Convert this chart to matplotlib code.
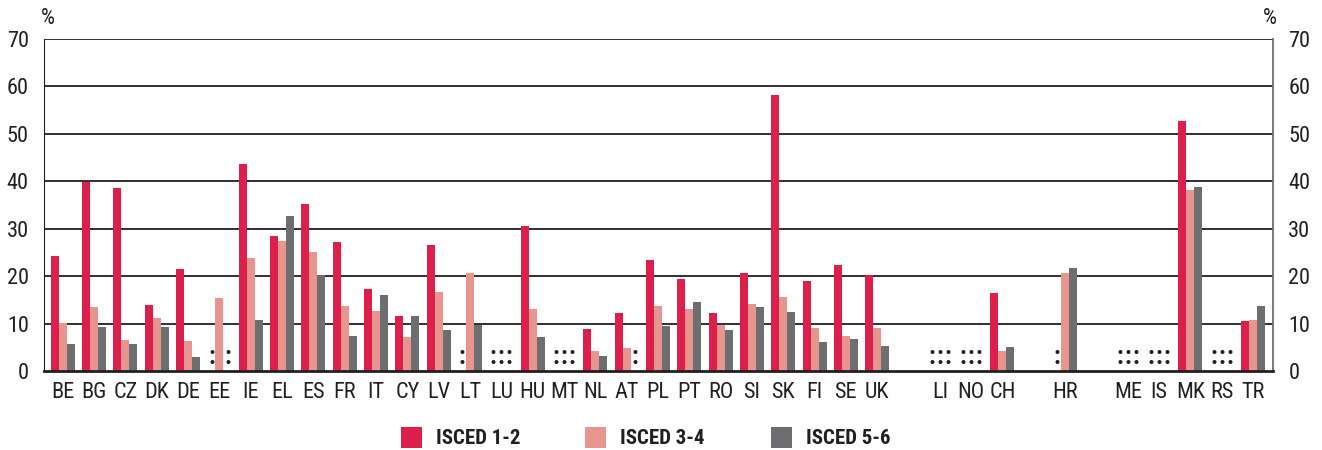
import numpy as np
import matplotlib
matplotlib.use("Agg")
import matplotlib.pyplot as plt
from matplotlib.patches import Rectangle

plt.rcParams['font.family'] = ['Roboto Condensed', 'Liberation Sans Narrow', 'Lato', 'DejaVu Sans']

# country slots ("" = empty gap in the axis)
countries = ["BE", "BG", "CZ", "DK", "DE", "EE", "IE", "EL", "ES", "FR", "IT", "CY", "LV",
             "LT", "LU", "HU", "MT", "NL", "AT", "PL", "PT", "RO", "SI", "SK", "FI", "SE", "UK",
             "", "LI", "NO", "CH", "", "HR", "", "ME", "IS", "MK", "RS", "TR"]

# None = data not available (shown as ":")
isced_12 = [24.2, 39.9, 38.6, 13.9, 21.5, None, 43.6, 28.4, 35.2, 27.2, 17.2, 11.5, 26.5,
            None, None, 30.5, None, 8.8, 12.2, 23.4, 19.3, 12.2, 20.6, 58.2, 18.9, 22.3, 20.2,
            0, None, None, 16.4, 0, None, 0, None, None, 52.7, None, 10.5]
isced_34 = [10.1, 13.4, 6.5, 11.1, 6.3, 15.3, 23.8, 27.4, 25.0, 13.6, 12.6, 7.1, 16.6,
            20.6, None, 13.0, None, 4.2, 4.8, 13.6, 13.0, 9.6, 14.1, 15.5, 9.0, 7.3, 9.0,
            0, None, None, 4.2, 0, 20.6, 0, None, None, 38.1, None, 10.7]
isced_56 = [5.6, 9.2, 5.6, 9.2, 2.9, None, 10.7, 32.6, 20.2, 7.3, 16.0, 11.5, 8.6,
            9.6, None, 7.1, None, 3.1, None, 9.4, 14.5, 8.6, 13.4, 12.4, 6.1, 6.7, 5.2,
            0, None, None, 5.0, 0, 21.7, 0, None, None, 38.8, None, 13.6]

series = [("ISCED 1-2", isced_12, "#DC1F4B"),
          ("ISCED 3-4", isced_34, "#E8948F"),
          ("ISCED 5-6", isced_56, "#6D6E70")]

fig = plt.figure(figsize=(13.22, 4.5), dpi=100)
ax = fig.add_axes([0.0333, 0.1756, 0.9297, 0.7377])

x = np.arange(len(countries))
w = 0.256
for i, (name, vals, col) in enumerate(series):
    off = (i - 1) * w
    for xi, v, c in zip(x, vals, countries):
        if c == "":
            continue
        if v is None:
            ax.text(xi + off, 2.9, ":", ha="center", va="center", fontsize=18,
                    fontweight="bold", color="#231F20")
        else:
            ax.bar(xi + off, v, width=w, color=col, zorder=3, linewidth=0)

ax.set_xlim(-0.6, len(countries) - 0.36)
ax.set_ylim(0, 70)
ax.set_yticks(range(0, 71, 10))
for yv in range(10, 71, 10):
    ax.axhline(yv, color="#231F20", lw=1.3, zorder=1)

ax.set_xticks(x)
ax.set_xticklabels(countries, fontsize=16, color="#231F20")
ax.tick_params(axis="x", length=0, pad=8)
ax.tick_params(axis="y", length=0, labelsize=16, labelcolor="#231F20", pad=11,
               labelleft=True, labelright=True)

ax.spines["top"].set_visible(False)
ax.spines["left"].set_color("#231F20")
ax.spines["right"].set_color("#6D6E70")
ax.spines["right"].set_linewidth(1.3)
ax.spines["bottom"].set_color("#231F20")
ax.spines["bottom"].set_linewidth(2)
ax.spines["bottom"].set_zorder(4)

fig.text(48 / 1322, 1 - 19 / 450, "%", fontsize=16, ha="center", va="center", color="#231F20")
fig.text(1270 / 1322, 1 - 19 / 450, "%", fontsize=16, ha="center", va="center", color="#231F20")

# legend drawn by hand
leg_x = [401, 585, 771]
for lx, (name, _, col) in zip(leg_x, series):
    fig.patches.append(Rectangle((lx / 1322, 1 - 448 / 450), 21 / 1322, 21 / 450,
                                 transform=fig.transFigure, facecolor=col, edgecolor="none"))
    fig.text((lx + 35) / 1322, 1 - 438 / 450, name, fontsize=15, fontweight="bold",
             ha="left", va="center", color="#231F20")

fig.savefig("out.png", dpi=100)
